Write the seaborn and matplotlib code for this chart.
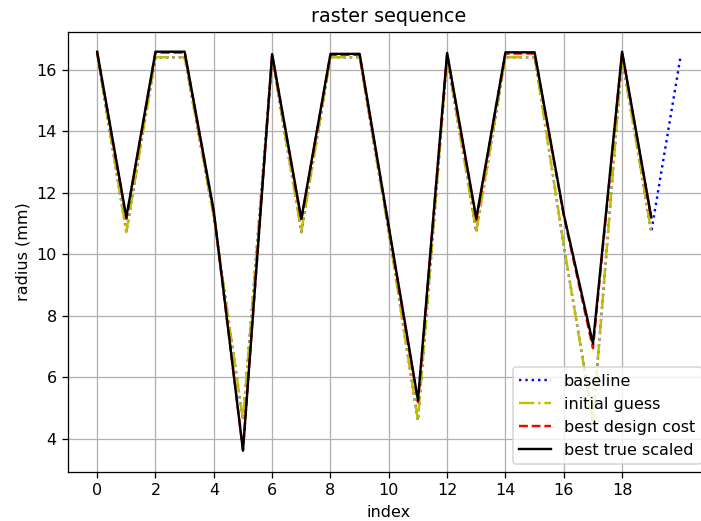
import matplotlib
matplotlib.use("Agg")
import matplotlib.pyplot as plt
import seaborn as sns
import numpy as np

# data
index = list(range(20))
index_baseline = list(range(21))
initial_guess = [16.5, 10.72, 16.4, 16.4, 11.2, 4.62, 16.4, 10.72, 16.4, 16.4,
                 10.7, 4.6, 16.4, 10.72, 16.4, 16.4, 10.3, 4.6, 16.4, 10.72]
baseline = initial_guess + [16.4]
best_design_cost = [16.55, 11.15, 16.55, 16.55, 11.35, 3.65, 16.48, 11.1, 16.48, 16.48,
                    10.85, 5.2, 16.5, 11.1, 16.52, 16.52, 11.25, 6.95, 16.55, 11.15]
best_true_scaled = [16.58, 11.2, 16.58, 16.58, 11.4, 3.62, 16.5, 11.15, 16.51, 16.51,
                    10.9, 5.26, 16.54, 11.17, 16.56, 16.56, 11.3, 7.1, 16.58, 11.2]
xtick_vals = list(range(0, 20, 2))

plt.rcParams['font.family'] = ['DejaVu Sans']
DPI = 115
fig = plt.figure(figsize=(701/DPI, 521/DPI), dpi=DPI)
ax = fig.add_axes([68/701, 1-472/521, (709.6-68)/701, (472-32)/521])

sns.lineplot(x=index_baseline, y=baseline, ax=ax, color='b', linestyle=':', label='baseline')
sns.lineplot(x=index, y=initial_guess, ax=ax, color='y', linestyle='-.', label='initial guess')
sns.lineplot(x=index, y=best_design_cost, ax=ax, color='r', linestyle='--', label='best design cost')
sns.lineplot(x=index, y=best_true_scaled, ax=ax, color='k', linestyle='-', label='best true scaled')

ax.set_xlim(-1, 21)
ax.set_ylim(2.93, 17.22)
ax.set_xticks(xtick_vals)
ax.grid(True)
ax.set_xlabel('index')
ax.set_ylabel('radius (mm)')
ax.set_title('raster sequence')
ax.legend(loc='lower right')

fig.savefig('out.png', dpi=DPI)
